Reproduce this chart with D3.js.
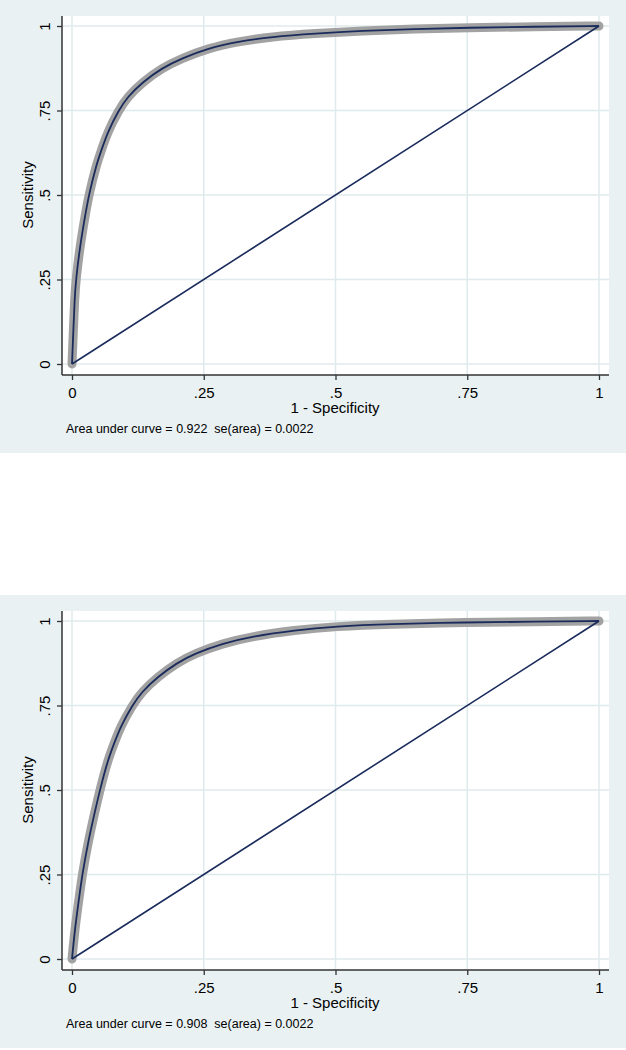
<!DOCTYPE html>
<html>
<head>
<meta charset="utf-8">
<script src="https://cdnjs.cloudflare.com/ajax/libs/d3/7.8.5/d3.min.js"></script>
<style>
  body { margin: 0; background: #ffffff; }
  text { font-family: "Liberation Sans", Arial, sans-serif; fill: #000; }
</style>
</head>
<body>
<div id="charts"></div>
<script>
// ROC points
const fprTop = [0, 0.0025, 0.005, 0.0076, 0.0146, 0.025, 0.032, 0.046, 0.057, 0.068, 0.088, 0.105, 0.135, 0.170, 0.208, 0.258, 0.315, 0.378, 0.461, 0.55, 0.65, 0.75, 0.875, 1];
const tprTop = [0, 0.096, 0.194, 0.25, 0.342, 0.44, 0.5, 0.589, 0.638, 0.687, 0.749, 0.790, 0.835, 0.875, 0.904, 0.934, 0.954, 0.968, 0.978, 0.986, 0.991, 0.995, 0.998, 1];

const fprBottom = [0, 0.006, 0.0146, 0.0196, 0.030, 0.044, 0.053, 0.068, 0.080, 0.092, 0.114, 0.132, 0.163, 0.198, 0.233, 0.287, 0.34, 0.423, 0.5, 0.6, 0.75, 0.875, 1];
const tprBottom = [0, 0.096, 0.194, 0.25, 0.342, 0.44, 0.5, 0.589, 0.638, 0.687, 0.749, 0.790, 0.835, 0.875, 0.904, 0.934, 0.954, 0.973, 0.984, 0.991, 0.996, 0.998, 1];

const tickValues = [0, 0.25, 0.5, 0.75, 1];
const tickLabels = ["0", ".25", ".5", ".75", "1"];

const notes = [
    "Area under curve = 0.922  se(area) = 0.0022",
    "Area under curve = 0.908  se(area) = 0.0022"
];

const W = 626, H = 1050;
const bgColor = "#e9f1f3", gridColor = "#dfeaed", navy = "#1a2b5c";

const svg = d3.select("#charts")
              .append("svg")
              .attr("width", W)
              .attr("height", H);

const x = d3.scaleLinear().domain([0, 1]).range([72, 599]);
const y = d3.scaleLinear().domain([0, 1]).range([364, 26]);

function drawPanel(offsetY, fpr, tpr, note) {
    const g = svg.append("g").attr("transform", `translate(0,${offsetY})`);

    // graph region
    g.append("rect").attr("x", 0).attr("y", 0)
     .attr("width", W).attr("height", 453)
     .attr("fill", bgColor);

    // plot region
    g.append("rect").attr("x", 62).attr("y", 16)
     .attr("width", 547).attr("height", 359)
     .attr("fill", "#fff");

    // grid
    g.append("g").selectAll("line").data(tickValues).enter().append("line")
     .attr("x1", 62).attr("x2", 609)
     .attr("y1", d => y(d)).attr("y2", d => y(d))
     .attr("stroke", gridColor).attr("stroke-width", 1.5);
    g.append("g").selectAll("line").data(tickValues).enter().append("line")
     .attr("y1", 16).attr("y2", 375)
     .attr("x1", d => x(d)).attr("x2", d => x(d))
     .attr("stroke", gridColor).attr("stroke-width", 1.5);

    // axes
    const yAxis = g.append("g").attr("transform", "translate(62,0)")
                   .call(d3.axisLeft(y).tickValues(tickValues).tickSize(5).tickSizeOuter(0)
                          .tickFormat((d, i) => tickLabels[i]));
    yAxis.select(".domain").attr("d", "M0,16V375").attr("stroke", "#333").attr("stroke-width", 1.5);
    yAxis.selectAll(".tick line").attr("stroke", "#333").attr("stroke-width", 1.3);
    yAxis.selectAll(".tick text")
         .attr("font-size", 15).attr("font-family", "Liberation Sans, Arial, sans-serif")
         .attr("fill", "#000")
         .attr("transform", "rotate(-90)")
         .attr("x", 0).attr("y", -12).attr("dy", 0)
         .attr("text-anchor", "middle");

    const xAxis = g.append("g").attr("transform", "translate(0,375)")
                   .call(d3.axisBottom(x).tickValues(tickValues).tickSize(5).tickSizeOuter(0)
                          .tickFormat((d, i) => tickLabels[i]));
    xAxis.select(".domain").attr("d", "M62,0H609").attr("stroke", "#333").attr("stroke-width", 1.5);
    xAxis.selectAll(".tick line").attr("stroke", "#333").attr("stroke-width", 1.3);
    xAxis.selectAll(".tick text")
         .attr("font-size", 15).attr("font-family", "Liberation Sans, Arial, sans-serif")
         .attr("fill", "#000")
         .attr("y", 23).attr("dy", 0);

    // titles
    g.append("text").attr("x", 335).attr("y", 413)
     .attr("text-anchor", "middle").attr("font-size", 15)
     .text("1 - Specificity");
    g.append("text").attr("transform", `translate(33,${y(0.5)}) rotate(-90)`)
     .attr("text-anchor", "middle").attr("font-size", 15)
     .text("Sensitivity");
    g.append("text").attr("x", 66).attr("y", 433)
     .attr("font-size", 12.5)
     .style("white-space", "pre")
     .text(note);

    // ROC curve: marker band + line
    const pts = fpr.map((d, i) => [d, tpr[i]]);
    const line = d3.line().x(d => x(d[0])).y(d => y(d[1])).curve(d3.curveBasis);

    g.append("path").attr("d", line(pts))
     .attr("fill", "none").attr("stroke", "#a2a2a2")
     .attr("stroke-width", 9).attr("stroke-linecap", "round").attr("stroke-linejoin", "round");
    g.append("path").attr("d", line(pts))
     .attr("fill", "none").attr("stroke", navy).attr("stroke-width", 1.8);

    // reference line
    g.append("line")
     .attr("x1", x(0)).attr("y1", y(0)).attr("x2", x(1)).attr("y2", y(1))
     .attr("stroke", navy).attr("stroke-width", 1.6);
}

drawPanel(0, fprTop, tprTop, notes[0]);
drawPanel(595, fprBottom, tprBottom, notes[1]);
</script>
</body>
</html>
